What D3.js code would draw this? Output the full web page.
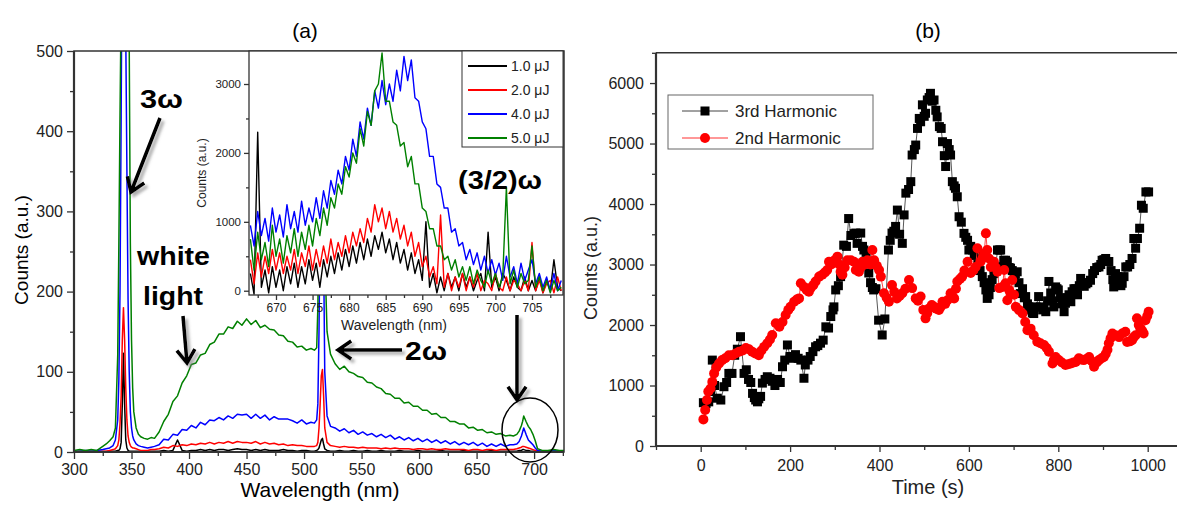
<!DOCTYPE html>
<html><head><meta charset="utf-8">
<script src="https://cdn.jsdelivr.net/npm/d3@7"></script>
<style>body{margin:0;background:#fff;} svg text{font-family:"Liberation Sans",Arial,sans-serif;}</style>
</head><body><svg id="c" width="1177" height="507"></svg>
<script>
// ---------- Panel (a) main spectra ----------
const mainWl = [300,305,310,315,320,325,328,331,334,336,338,339,340,341,342,343,344,345,346,347,348,349,350,351,352,354,356,358,361,364,367,370,374,378,382,386,390,394,398,402,406,410,414,418,422,426,430,434,438,442,446,450,454,458,462,466,470,474,478,482,486,490,494,498,502,506,509,511,512,513,514,515,516,517,518,520,523,527,531,535,539,543,547,551,555,559,563,567,571,575,579,583,587,591,595,599,603,607,611,615,619,623,627,631,635,639,643,647,651,655,659,663,667,671,675,679,682,685,687,689,690,691,693,695,697,699,701,703,707,712,717,722,726];
const mainGreen = [2,3,2,3,2,7, 10,14,19,30,120, 260,420,560,800,900,900,880,800,600,510,260,140,80,50, 30,22,19,17,16,18,17,
 25,38,47,63,70,86,95,109,111,121,123,134,137,147,147,156,154,163,158,166,159,164,155,158,153,152,146,145,138,137,131,132,127,129,
 127,130,180,300,450,520,520,400,250,150,122,
 110,103,107,100,98,94,93,87,86,81,79,73,72,67,67,61,62,57,57,52,52,47,48,43,43,38,38,35,35,30,31,27,28,24,25,22,23,20,21,
 20,22,26,33,38,45,38,32,28,22,14,4, 2,2,3,2,2];
const mainBlue = [1,1,2,1,2,3, 4,5,8,15,40, 90,200,420,700,800,700,520,350,190,100,50,30,20,15, 10,8,7,6,5,6,7,
 9,16,15,22,21,28,27,33,30,37,34,40,39,43,40,45,42,47,46,47,42,47,42,46,40,44,41,41,41,39,36,40,35,37,
 36,40,60,150,300,420,380,250,100,45,32,
 30,26,29,24,27,22,25,21,23,19,22,18,21,16,19,15,18,14,17,13,16,12,15,11,14,10,13,9,12,9,12,8,11,7,10,7,10,7,9,
 9,10,13,20,25,30,22,15,12,9,5,2, 1,1,2,1,1];
const mainRed = [0.5,1,0.5,1,0.5,1, 1,2,3,4,8, 15,35,70,140,180,140,80,40,20,12,8,6,5,5, 4,3,2,2,2,3,3,
 4,6,5,8,7,9,8,10,9,11,10,12,10,12,11,13,11,13,12,12,11,13,10,12,10,11,9,10,8,9,8,8,7,7,
 7,8,12,30,60,95,103,70,30,12,8,
 7,6,7,6,6,5,6,5,5,5,4,5,4,5,4,4,4,3,4,4,3,4,3,3,4,3,3,3,3,2,3,3,2,3,3,2,3,3,3,
 3,4,5,6,7,7,6,5,4,3,2,1, 0.5,0.5,1,0.5,0.5];
const mainBlack = [0.5,0.5,0.5,0.5,0.5,0.5, 0.5,1,1,1,2, 2,4,12,60,123,60,15,5,2,1,1,1,1,1, 1,1,1,1,1,1,1,
 1,2,1,2,15,2,1,2,2,3,2,3,2,3,3,2,3,4,3,3,2,3,2,3,2,2,2,3,2,2,1,2,2,1,
 1,2,3,5,10,15,17,10,4,2,1,
 1,2,1,1,2,1,1,2,1,1,2,1,1,1,2,1,1,1,2,1,1,1,1,2,1,1,1,1,2,1,1,1,1,1,2,1,1,1,1,
 1,1,2,2,3,3,2,2,1,1,1,0.5, 0.5,0.5,0.5,0.5,0.5];
const mainXTicks = [300,350,400,450,500,550,600,650,700];
const mainYTicks = [0,100,200,300,400,500];

// ---------- Panel (a) inset ----------
const insetWl = [666.5,667,667.5,668,668.5,669,669.5,670,670.5,671,671.5,672,672.5,673,673.5,674,674.5,675,675.5,676,676.5,677,677.5,678,678.5,679,679.5,680,680.5,681,681.5,682,682.5,683,683.5,684,684.5,685,685.5,686,686.5,687,687.5,688,688.5,689,689.5,690,690.5,691,691.5,692,692.5,693,693.5,694,694.5,695,695.5,696,696.5,697,697.5,698,698.5,699,699.5,700,700.5,701,701.5,702,702.5,703,703.5,704,704.5,705,705.5,706,706.5,707,707.5,708,708.5,709];
const insetBlue = [950,650,1150,800,1050,720,1200,850,1100,780, 1250,900,1150,850,1300,950,1200,1000,1350,1050,
 1450,1200,1600,1400,1750,1550,1950,1750,2200,1950, 2450,2200,2650,2400,2900,2650,3050,2700,3000,2750,
 3200,2900,3400,3050,3350,2800,2750,2450,2350,1950, 1950,1550,1500,1200,1200,850,900,650,700,450,
 600,380,550,300,500,250,450,230,400,150, 500,200,350,100,400,150,300,450,100,250, 50,200,0,250,0,150];
const insetGreen = [750,300,850,450,700,350,950,500,750,400, 800,550,900,500,850,600,950,650,1050,800,
 1200,950,1350,1200,1550,1400,1800,1650,2000,1850, 2350,2100,2600,2400,2900,3000,3450,2750,2750,2450,
 2400,2100,2150,1800,1950,1550,1550,1200,1150,900, 900,650,650,450,500,300,450,200,350,150,
 350,100,300,150,50,300,100,250,50,200, 1500,100,300,50,250,100,150,650,50,200, 0,150,-30,150,0,50];
const insetRed = [450,100,550,200,500,250,600,300,550,250, 500,300,600,250,550,350,650,300,600,350,
 650,400,750,450,700,500,800,550,850,650, 900,700,1050,850,1250,1000,1200,900,1150,850,
 1050,750,950,650,850,500,700,350,500,200, 350,100,1100,50,250,0,200,50,250,0,
 200,50,250,0,150,100,0,250,50,0, 200,0,150,100,0,150,0,700,0,150, -30,100,150,-30,200,0];
const insetBlack = [250,-50,2300,50,300,-30,350,50,300,0, 350,100,400,50,350,100,450,150,400,50,
 450,200,500,250,550,300,600,350,650,400, 700,450,750,500,800,600,850,550,750,450,
 700,400,600,300,550,250,450,150,1000,50, 250,-30,200,0,250,50,200,0,250,50,
 200,0,150,250,0,850,50,200,0,250, 150,0,200,50,0,200,0,150,0,200, -30,150,0,450,50,0];
const insetXTicks = [670,675,680,685,690,695,700,705];
const insetYTicks = [0,1000,2000,3000];
const insetLegend = ["1.0 \u03bcJ","2.0 \u03bcJ","4.0 \u03bcJ","5.0 \u03bcJ"];

// ---------- Panel (b) ----------
const thirdT = [6,12,18,22,26,31,37,45,52,58,63,70,76,82,89,97,102,107,112,116,120,123,127,130,134,138,144,149,155,160,166,172,178,183,188,194,200,206,212,218,224,231,234,240,245,251,257,262,268,274,280,286,291,296,298,302,308,313,320,326,331,336,343,347,350,358,362,365,370,376,380,384,387,392,398,406,412,420,424,428,432,436,440,445,451,455,459,465,470,473,478,481,485,489,492,496,500,503,507,511,514,518,522,526,529,534,538,541,545,548,552,556,559,563,567,570,574,578,583,589,593,597,600,604,608,612,615,620,625,630,634,638,641,645,648,652,656,660,664,668,671,675,678,682,686,690,693,697,701,704,708,712,715,720,724,727,731,734,738,742,745,750,756,760,765,768,772,776,779,783,787,790,794,797,800,805,809,813,816,820,824,828,831,835,839,843,847,850,854,858,862,866,872,877,881,886,891,895,898,902,906,910,913,918,922,924,928,932,936,940,943,947,951,955,960,965,969,973,977,982,986,990,996,1002];
const thirdV = [716,700,730,900,1420,1000,790,760,980,1050,1200,1200,1500,1600,1807,1200,1260,1100,1050,870,800,760,730,780,820,1040,1100,1145,1120,1070,1000,1100,1050,1310,1420,1670,1480,1450,1510,1450,1420,1120,1340,1420,1480,1560,1640,1660,1700,1750,1970,1950,2140,2250,2300,2580,2650,2800,3320,3300,3760,3480,3510,3520,3350,3520,3300,3240,3200,2860,2700,2620,2580,2600,2080,1835,2100,3240,3400,3520,3550,3630,3900,3500,3350,3820,4180,4240,4370,4810,4900,4975,5250,5415,5360,5640,5450,5500,5720,5760,5830,5700,5720,5550,5440,5280,5250,5030,4800,4620,5000,4900,4810,4370,4300,4260,4120,3790,3700,3515,3450,3400,3240,3300,3240,3150,3190,3000,2900,2800,2700,2580,2440,2500,2620,2750,2850,2960,3240,3240,3240,2960,3070,3070,3045,2950,2940,2900,2750,2850,2880,2700,2520,2600,2450,2470,2350,2300,2250,2200,2190,2300,2470,2300,2250,2280,2220,2400,2720,2530,2400,2300,2630,2600,2580,2450,2350,2220,2360,2450,2500,2385,2550,2600,2600,2500,2650,2770,2700,2640,2680,2700,2740,2850,2900,2950,2960,3000,3070,3080,3100,3050,3050,2900,2750,2630,2850,2800,2700,2650,2690,2800,2960,2960,3000,3100,3430,3270,3430,3600,3980,3930,4200,4200];
const secondT = [6,10,14,17,22,26,30,35,41,48,55,63,71,78,86,94,101,108,115,122,130,136,142,149,155,160,168,176,183,190,196,201,209,215,220,224,231,237,242,246,252,257,265,272,278,283,287,292,295,301,306,310,313,317,322,328,336,343,347,354,358,362,367,373,380,384,388,394,399,403,410,416,421,428,433,439,445,451,458,466,473,481,486,492,498,503,507,511,517,522,527,533,537,541,547,552,559,563,567,571,574,580,585,590,597,604,610,615,619,626,630,634,638,641,645,649,656,660,664,668,675,679,682,686,690,693,697,701,705,712,720,726,731,738,745,753,760,768,774,779,787,790,794,801,808,816,822,828,834,839,846,851,857,863,869,875,880,886,891,897,902,906,910,913,917,921,928,936,943,950,954,960,965,969,973,976,980,984,988,991,995,999,1002];
const secondV = [440,595,760,900,950,1060,1200,1300,1365,1420,1450,1500,1500,1530,1560,1580,1620,1600,1560,1530,1500,1580,1640,1700,1760,1835,2030,1970,2050,2165,2250,2300,2385,2420,2440,2690,2630,2580,2550,2610,2660,2720,2800,2830,2870,2910,3045,3000,3045,3080,3130,3000,2880,2830,2950,3070,3070,3045,2910,2880,2950,3045,3000,3070,3000,3240,3070,2980,2910,2800,2525,2450,2385,2660,2550,2440,2480,2525,2600,2745,2610,2440,2400,2470,2250,2110,2200,2275,2330,2300,2270,2250,2300,2385,2350,2410,2525,2480,2440,2600,2720,2760,2800,2900,3045,2860,2900,2960,3270,3045,3100,3180,3515,3240,3100,2960,3045,2950,2880,2610,2630,2910,2690,2410,2580,2525,2745,2500,2300,2250,2190,2050,1915,1940,1830,1725,1700,1670,1620,1560,1365,1420,1470,1420,1380,1340,1350,1365,1380,1390,1450,1430,1420,1440,1470,1400,1310,1380,1420,1450,1470,1520,1590,1700,1780,1860,1830,1800,1860,1890,1720,1730,1750,1800,1830,2110,2000,1940,1900,1860,2080,2150,2220];
const bXTicks = [0,200,400,600,800,1000];
const bYTicks = [0,1000,2000,3000,4000,5000,6000];
const bLegend = ["3rd Harmonic","2nd Harmonic"];

// ================= drawing =================
const svg = d3.select("#c");
const defs = svg.append("defs");
const flt = defs.append("filter").attr("id","sh").attr("x","-50%").attr("y","-50%").attr("width","200%").attr("height","200%");
flt.append("feDropShadow").attr("dx",3).attr("dy",3).attr("stdDeviation",1.5).attr("flood-color","#777").attr("flood-opacity",0.6);
const FONT = "'Liberation Sans', Arial, sans-serif";
const AX = "#333";

function styleAxis(g, fs){
  g.select(".domain").remove();
  g.selectAll(".tick line").attr("stroke",AX).attr("stroke-width",1.3);
  g.selectAll(".tick text").attr("fill","#222").style("font-size",fs+"px").style("font-family",FONT);
}
function minorVals(a,b,step){ const r=[]; for(let v=a; v<=b+1e-9; v+=step) r.push(+v.toFixed(3)); return r; }

// ---- panel a main ----
const ax = d3.scaleLinear().domain([300,726]).range([74,564]);
const ay = d3.scaleLinear().domain([0,500]).range([452,51]);
defs.append("clipPath").attr("id","clipA").append("rect").attr("x",74).attr("y",51).attr("width",490).attr("height",401);
const colors = ["#000000","#ff0000","#0000ff","#008000"];
const mainSeries = [mainBlack, mainRed, mainBlue, mainGreen];
const gA = svg.append("g").attr("clip-path","url(#clipA)");
const lineA = d3.line().x((d,i)=>ax(mainWl[i])).y(d=>ay(d));
mainSeries.forEach((s,k)=>{
  gA.append("path").attr("d",lineA(s)).attr("fill","none").attr("stroke",colors[k]).attr("stroke-width",1.5).attr("stroke-linejoin","round");
});
const axB = svg.append("g").attr("transform","translate(0,452)").call(d3.axisBottom(ax).tickValues(mainXTicks).tickSize(7).tickPadding(5).tickFormat(d3.format("d")));
styleAxis(axB,16);
const axBm = svg.append("g").attr("transform","translate(0,452)").call(d3.axisBottom(ax).tickValues(minorVals(325,725,50)).tickSize(4).tickFormat(""));
styleAxis(axBm,16);
const axL = svg.append("g").attr("transform","translate(74,0)").call(d3.axisLeft(ay).tickValues(mainYTicks).tickSize(7).tickPadding(4).tickFormat(d3.format("d")));
styleAxis(axL,16);
const axLm = svg.append("g").attr("transform","translate(74,0)").call(d3.axisLeft(ay).tickValues(minorVals(50,450,100)).tickSize(4).tickFormat(""));
styleAxis(axLm,16);
svg.append("rect").attr("x",74).attr("y",51).attr("width",490).attr("height",401).attr("fill","none").attr("stroke",AX).attr("stroke-width",1.5);
svg.append("line").attr("x1",74).attr("x2",74).attr("y1",51).attr("y2",452).attr("stroke",AX).attr("stroke-width",2.2);
svg.append("line").attr("x1",74).attr("x2",564).attr("y1",452).attr("y2",452).attr("stroke",AX).attr("stroke-width",2);

svg.append("text").attr("x",305).attr("y",38).attr("text-anchor","middle").style("font-size","21px").text("(a)");
svg.append("text").attr("transform","translate(28,250) rotate(-90)").attr("text-anchor","middle").style("font-size","19px").text("Counts (a.u.)");
svg.append("text").attr("x",320).attr("y",497).attr("text-anchor","middle").style("font-size","21px").text("Wavelength (nm)");

// ---- inset ----
const ix = d3.scaleLinear().domain([666.31,709.24]).range([249,563]);
const iy = d3.scaleLinear().domain([-62,3479]).range([295,51]);
svg.append("rect").attr("x",249).attr("y",51).attr("width",314).attr("height",244).attr("fill","#fff");
defs.append("clipPath").attr("id","clipI").append("rect").attr("x",249).attr("y",51).attr("width",314).attr("height",244);
const gI = svg.append("g").attr("clip-path","url(#clipI)");
const lineI = d3.line().x((d,i)=>ix(insetWl[i])).y(d=>iy(d));
[insetBlack, insetRed, insetBlue, insetGreen].forEach((s,k)=>{
  gI.append("path").attr("d",lineI(s)).attr("fill","none").attr("stroke",colors[k]).attr("stroke-width",1.4).attr("stroke-linejoin","round");
});
const iB = svg.append("g").attr("transform","translate(0,295)").call(d3.axisBottom(ix).tickValues(insetXTicks).tickSize(5).tickPadding(3).tickFormat(d3.format("d")));
styleAxis(iB,12);
const iBm = svg.append("g").attr("transform","translate(0,295)").call(d3.axisBottom(ix).tickValues(minorVals(667.5,707.5,5)).tickSize(3).tickFormat(""));
styleAxis(iBm,12);
const iL = svg.append("g").attr("transform","translate(249,0)").call(d3.axisLeft(iy).tickValues(insetYTicks).tickSize(5).tickPadding(3).tickFormat(d3.format("d")));
styleAxis(iL,11.5);
const iLm = svg.append("g").attr("transform","translate(249,0)").call(d3.axisLeft(iy).tickValues([500,1500,2500]).tickSize(3).tickFormat(""));
styleAxis(iLm,11.5);
svg.append("rect").attr("x",249).attr("y",51).attr("width",314).attr("height",244).attr("fill","none").attr("stroke",AX).attr("stroke-width",1.3);
svg.append("text").attr("x",394).attr("y",330).attr("text-anchor","middle").style("font-size","14px").attr("fill","#222").text("Wavelength (nm)");
svg.append("text").attr("transform","translate(206,173) rotate(-90)").attr("text-anchor","middle").style("font-size","12px").attr("fill","#222").text("Counts (a.u.)");
svg.append("rect").attr("x",462).attr("y",51).attr("width",101).attr("height",96).attr("fill","#fff").attr("stroke",AX).attr("stroke-width",1);
insetLegend.forEach((t,k)=>{
  const yy = 66 + k*24;
  svg.append("line").attr("x1",468).attr("x2",507).attr("y1",yy).attr("y2",yy).attr("stroke",colors[k]).attr("stroke-width",2);
  svg.append("text").attr("x",511).attr("y",yy+5).style("font-size","14px").attr("fill","#222").text(t);
});

// ---- annotations ----
function arrow(x1,y1,x2,y2){
  const a = Math.atan2(y2-y1,x2-x1), L=16, w=0.6;
  const p1=[x2-L*Math.cos(a-w), y2-L*Math.sin(a-w)], p2=[x2-L*Math.cos(a+w), y2-L*Math.sin(a+w)];
  svg.append("path").attr("d",`M${x1},${y1}L${x2},${y2}M${p1[0]},${p1[1]}L${x2},${y2}L${p2[0]},${p2[1]}`)
    .attr("fill","none").attr("stroke","#000").attr("stroke-width",3.5).attr("stroke-linejoin","miter").attr("filter","url(#sh)");
}
arrow(160,118,131,192);
arrow(183,316,187,363);
arrow(402,350,338,350);
arrow(517,315,517,400);
svg.append("ellipse").attr("cx",530).attr("cy",430).attr("rx",28).attr("ry",32).attr("fill","none").attr("stroke","#000").attr("stroke-width",1.5);
function ann(t,x,y,w){ svg.append("text").attr("x",x).attr("y",y).attr("textLength",w).attr("lengthAdjust","spacingAndGlyphs").style("font-size","26px").style("font-weight","bold").text(t); }
ann("3\u03c9",140,108,43);
ann("white",137,265,73);
ann("light",143,305,60);
ann("2\u03c9",405,360,42);
ann("(3/2)\u03c9",458,189,84);

// ---- panel b ----
const bx = d3.scaleLinear().domain([-100,1100]).range([656,1192.4]);
const by = d3.scaleLinear().domain([0,6500]).range([446,52.8]);
const gB = svg.append("g");
const lineB3 = d3.line().x((d,i)=>bx(thirdT[i])).y(d=>by(d));
const lineB2 = d3.line().x((d,i)=>bx(secondT[i])).y(d=>by(d));
gB.append("path").attr("d",lineB3(thirdV)).attr("fill","none").attr("stroke","#444").attr("stroke-width",0.9);
gB.selectAll("rect.sq").data(thirdV).enter().append("rect").attr("class","sq")
  .attr("x",(d,i)=>bx(thirdT[i])-4.5).attr("y",d=>by(d)-4.5).attr("width",9).attr("height",9).attr("fill","#000");
gB.append("path").attr("d",lineB2(secondV)).attr("fill","none").attr("stroke","#ff3030").attr("stroke-width",0.9);
gB.selectAll("circle.ci").data(secondV).enter().append("circle").attr("class","ci")
  .attr("cx",(d,i)=>bx(secondT[i])).attr("cy",d=>by(d)).attr("r",5).attr("fill","#ff0000");

const bB = svg.append("g").attr("transform","translate(0,446)").call(d3.axisBottom(bx).tickValues(bXTicks).tickSize(6).tickPadding(8).tickFormat(d3.format("d")));
styleAxis(bB,16);
const bBm = svg.append("g").attr("transform","translate(0,446)").call(d3.axisBottom(bx).tickValues(minorVals(-100,1100,200)).tickSize(4).tickFormat(""));
styleAxis(bBm,16);
const bL = svg.append("g").attr("transform","translate(656,0)").call(d3.axisLeft(by).tickValues(bYTicks).tickSize(6).tickPadding(6).tickFormat(d3.format("d")));
styleAxis(bL,16);
const bLm = svg.append("g").attr("transform","translate(656,0)").call(d3.axisLeft(by).tickValues(minorVals(500,6500,1000)).tickSize(4).tickFormat(""));
styleAxis(bLm,16);
svg.append("line").attr("x1",656).attr("x2",656).attr("y1",52.8).attr("y2",446).attr("stroke",AX).attr("stroke-width",2.2);
svg.append("line").attr("x1",656).attr("x2",1177).attr("y1",446).attr("y2",446).attr("stroke",AX).attr("stroke-width",2);
svg.append("line").attr("x1",656).attr("x2",1177).attr("y1",52.8).attr("y2",52.8).attr("stroke",AX).attr("stroke-width",1.5);
svg.append("text").attr("x",928).attr("y",38).attr("text-anchor","middle").style("font-size","21px").text("(b)");
svg.append("text").attr("transform","translate(597,268) rotate(-90)").attr("text-anchor","middle").style("font-size","18px").attr("fill","#222").text("Counts (a.u.)");
svg.append("text").attr("x",928).attr("y",494).attr("text-anchor","middle").style("font-size","20px").attr("fill","#222").text("Time (s)");
svg.append("rect").attr("x",668).attr("y",95).attr("width",205).attr("height",54).attr("fill","#fff").attr("stroke","#666").attr("stroke-width",1);
bLegend.forEach((t,k)=>{
  const yy = 111 + k*27;
  svg.append("line").attr("x1",682).attr("x2",728).attr("y1",yy).attr("y2",yy).attr("stroke",k?"#ff3030":"#444").attr("stroke-width",1);
  if(k===0) svg.append("rect").attr("x",700.5).attr("y",yy-4.5).attr("width",9).attr("height",9).attr("fill","#000");
  else svg.append("circle").attr("cx",705).attr("cy",yy).attr("r",5).attr("fill","#ff0000");
  svg.append("text").attr("x",735).attr("y",yy+6).style("font-size","17px").attr("fill","#222").text(t);
});
</script></body></html>
